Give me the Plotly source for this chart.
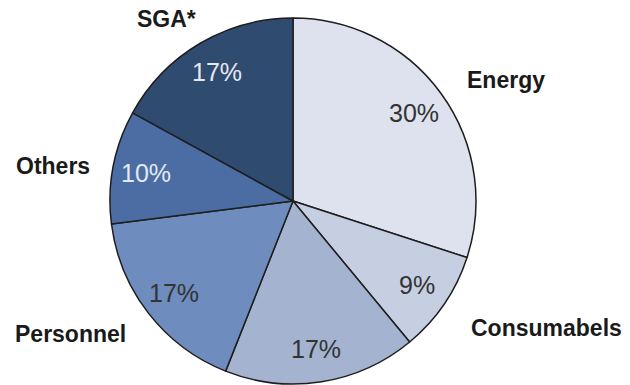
import math
import plotly.graph_objects as go

# Cost breakdown (percent of total)
categories = ["Energy", "Consumabels", "", "Personnel", "Others", "SGA*"]
shares = [30, 9, 17, 17, 10, 17]
slice_colors = ["#dde2ee", "#c6cfe1", "#a3b3d0", "#6e8dbe", "#4b6da4", "#304b70"]
pct_colors = ["#333333", "#333333", "#333333", "#333333", "#e4e9f3", "#e4e9f3"]

# Outside category label anchors (pixel positions in the 630x385 canvas)
label_pos = [(506, 80), (546, 328), None, (70, 334), (53, 166), (166, 19)]

W, H = 630, 385
cx, cy, r = 293, 201, 183  # pie centre and radius in pixels

fig = go.Figure(
    go.Pie(
        labels=[c if c else "Other costs" for c in categories],
        values=shares,
        sort=False,
        direction="clockwise",
        rotation=0,
        textinfo="none",
        hoverinfo="label+percent",
        marker=dict(colors=slice_colors, line=dict(color="#1e1e1e", width=1.5)),
        domain=dict(x=[(cx - r) / W, (cx + r) / W], y=[1 - (cy + r) / H, 1 - (cy - r) / H]),
        showlegend=False,
    )
)

annotations = []
total = sum(shares)
start = 0.0
for name, val, col, pos in zip(categories, shares, pct_colors, label_pos):
    mid = (start + val / 2) / total * 2 * math.pi
    start += val
    px = cx + 0.82 * r * math.sin(mid)
    py = cy - 0.82 * r * math.cos(mid)
    annotations.append(dict(
        x=px / W, y=1 - py / H, xref="paper", yref="paper",
        text=f"{round(val / total * 100)}%", showarrow=False,
        xanchor="center", yanchor="middle",
        font=dict(family="Liberation Sans, Arial", size=25, color=col),
    ))
    if name and pos:
        annotations.append(dict(
            x=pos[0] / W, y=1 - pos[1] / H, xref="paper", yref="paper",
            text=f"<b>{name}</b>", showarrow=False, xanchor="center", yanchor="middle",
            font=dict(family="Liberation Sans, Arial", size=23, color="#1a1a1a"),
        ))

fig.update_layout(
    width=W, height=H,
    margin=dict(l=0, r=0, t=0, b=0),
    paper_bgcolor="white", plot_bgcolor="white",
    annotations=annotations,
)

fig.write_html("out.html")
